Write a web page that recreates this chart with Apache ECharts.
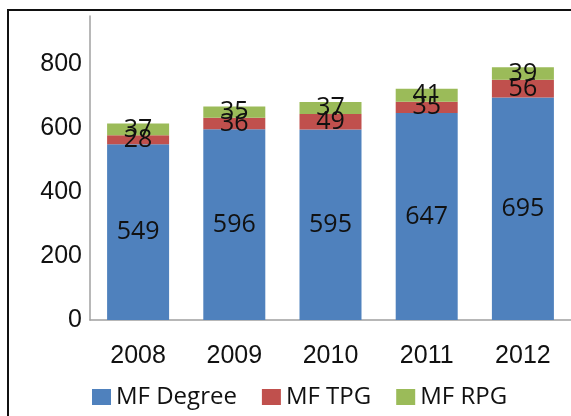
<!DOCTYPE html>
<html>
<head>
<meta charset="utf-8">
<script src="https://cdn.jsdelivr.net/npm/echarts@6/dist/echarts.min.js"></script>
<style>
  html, body { margin: 0; padding: 0; background: #fff; }
  #chart { width: 571px; height: 416px; }
</style>
</head>
<body>
<div id="chart"></div>
<script>
// chart data
const years = ['2008', '2009', '2010', '2011', '2012']
const mfDegree = [549, 596, 595, 647, 695]
const mfTpg = [28, 36, 49, 35, 56]
const mfRpg = [37, 35, 37, 41, 39]

const seriesNames = ['MF Degree', 'MF TPG', 'MF RPG']
const seriesColors = ['#4f81bd', '#c0504d', '#9bbb59']

const chart = echarts.init(document.getElementById('chart'))

function stackSeries(name, data, color) {
  return {
    name: name,
    type: 'bar',
    stack: 'total',
    barWidth: 62,
    data: data,
    itemStyle: { color: color },
    label: {
      show: true,
      position: 'inside',
      color: '#111',
      fontFamily: 'Open Sans',
      fontSize: 25,
    },
  }
}

const option = {
  animation: false,
  graphic: [
    {
      type: 'rect',
      shape: { x: 8, y: 10, width: 620, height: 480 },
      style: { fill: 'none', stroke: '#111', lineWidth: 2 },
      z: 100,
    },
  ],
  legend: {
    left: 87,
    top: 380,
    itemWidth: 19,
    itemHeight: 16,
    itemGap: 25,
    icon: 'rect',
    data: seriesNames,
    textStyle: {
      fontFamily: 'Open Sans',
      fontSize: 24,
      color: '#111',
    },
  },
  grid: {
    left: 90,
    top: 16,
    width: 484,
    height: 304,
  },
  xAxis: {
    type: 'category',
    data: years,
    axisLine: { lineStyle: { color: '#a0a0a0', width: 1.5 } },
    axisTick: { show: false },
    axisLabel: {
      margin: 24,
      fontFamily: 'Liberation Sans',
      fontSize: 25,
      color: '#111',
    },
  },
  yAxis: {
    type: 'value',
    min: 0,
    max: 950,
    interval: 200,
    axisLine: { show: true, lineStyle: { color: '#a0a0a0', width: 1.5 } },
    axisTick: { show: false },
    splitLine: { show: false },
    axisLabel: {
      margin: 8,
      showMaxLabel: false,
      fontFamily: 'Liberation Sans',
      fontSize: 25,
      color: '#111',
    },
  },
  series: [
    stackSeries(seriesNames[0], mfDegree, seriesColors[0]),
    stackSeries(seriesNames[1], mfTpg, seriesColors[1]),
    stackSeries(seriesNames[2], mfRpg, seriesColors[2]),
  ],
}

chart.setOption(option)
</script>
</body>
</html>
